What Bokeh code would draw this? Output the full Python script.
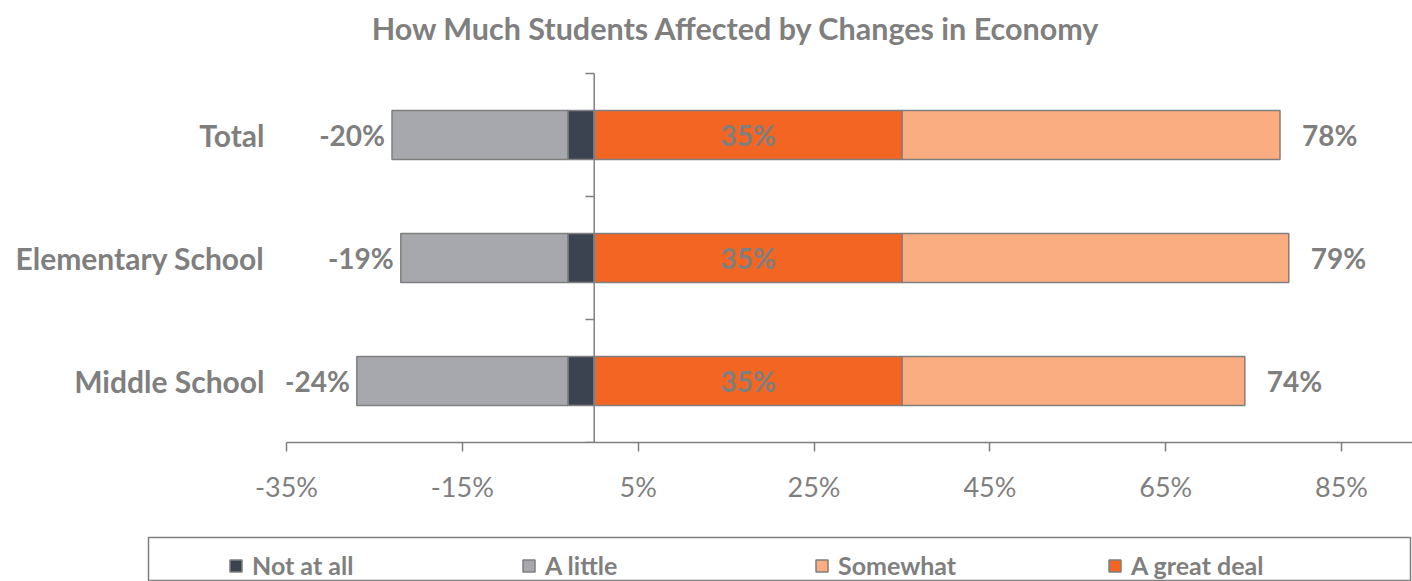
from bokeh.plotting import figure
from bokeh.layouts import column
from bokeh.models import (Range1d, FixedTicker, PrintfTickFormatter, ColumnDataSource,
                          LabelSet, Label, Legend, LegendItem)
from bokeh.core.properties import value
from bokeh.embed import file_html
from bokeh.resources import INLINE

# ---- data ----
categories = ["Total", "Elementary School", "Middle School"]
series_names = ["Not at all", "A little", "Somewhat", "A great deal"]
not_at_all = [3, 3, 3]
a_little = [20, 19, 24]
great_deal = [35, 35, 35]
somewhat = [43, 44, 39]
x_ticks = [-35, -15, 5, 25, 45, 65, 85]
title_text = "How Much Students Affected by Changes in Economy"

# ---- styles ----
C_DARK = "#3C4350"
C_GRAY = "#A6A8AD"
C_LIGHT = "#F9AD81"
C_ORANGE = "#F26522"
C_EDGE = "#7F7F7F"
C_TEXT = "#7F7F7F"
FONT = "Lato"

n = len(categories)
ypos = [n - i - 0.5 for i in range(n)]

left_na = [-v for v in not_at_all]
left_al = [-(a + b) for a, b in zip(not_at_all, a_little)]
right_gd = list(great_deal)
right_sw = [a + b for a, b in zip(great_deal, somewhat)]

src = ColumnDataSource(dict(
    y=ypos, cat=categories,
    na_l=left_na, al_l=left_al, gd_r=right_gd, sw_r=right_sw,
    neg_lbl=[f"-{v}%" for v in a_little],
    pos_lbl=[f"{v}%" for v in right_sw],
    mid_lbl=[f"{v}%" for v in great_deal],
    mid_x=[v / 2 for v in great_deal],
    zero=[0] * n,
))

# series: (name, left column, right column, colour)
series = [(series_names[0], "na_l", "zero", C_DARK),
          (series_names[1], "al_l", "na_l", C_GRAY),
          (series_names[2], "gd_r", "sw_r", C_LIGHT),
          (series_names[3], "zero", "gd_r", C_ORANGE)]

px_per_pct = 8.789
px_per_row = 123.0
top_pad = 73 / px_per_row          # room above the bars for the title
p = figure(width=1412, height=530, output_backend="svg", toolbar_location=None,
           x_range=Range1d(-35, (1412 - 594) / px_per_pct),
           y_range=Range1d(0, n + top_pad),
           min_border_left=286, min_border_right=0, min_border_top=0, min_border_bottom=88,
           outline_line_color=None)
p.frame_align = False
p.grid.visible = False

bh = 0.4
for name, l, r, col in series:
    p.hbar(y="y", left=l, right=r, height=bh, source=src, fill_color=col,
           line_color=C_EDGE, line_width=1.5)

# x axis
xa = p.xaxis[0]
xa.ticker = FixedTicker(ticks=x_ticks, minor_ticks=[])
xa.formatter = PrintfTickFormatter(format="%d%%")
xa.axis_line_color = C_EDGE
xa.axis_line_width = 1.5
xa.major_tick_line_color = C_EDGE
xa.major_tick_line_width = 1.5
xa.major_tick_in = 0
xa.major_tick_out = 9
xa.minor_tick_line_color = None
xa.major_label_text_font = FONT
xa.major_label_text_font_size = "27px"
xa.major_label_text_color = C_TEXT
xa.major_label_standoff = 18

# y axis (category labels only)
ya = p.yaxis[0]
ya.ticker = FixedTicker(ticks=ypos, minor_ticks=[])
ya.major_label_overrides = {y: c for y, c in zip(ypos, categories)}
ya.axis_line_color = None
ya.major_tick_line_color = None
ya.minor_tick_line_color = None
ya.major_label_text_font = FONT
ya.major_label_text_font_style = "bold"
ya.major_label_text_font_size = "30px"
ya.major_label_text_color = C_TEXT
ya.major_label_standoff = 16

# zero line with boundary ticks
p.segment(x0=[0], x1=[0], y0=[0], y1=[n], line_color=C_EDGE, line_width=1.5)
p.segment(x0=[-1.0] * (n + 1), x1=[0] * (n + 1), y0=list(range(n + 1)), y1=list(range(n + 1)),
          line_color=C_EDGE, line_width=1.5)

# value labels
lbl_kw = dict(text_font=value(FONT), text_font_style="bold", text_font_size="28px",
              text_color=C_TEXT, text_baseline="middle")
p.add_layout(LabelSet(x="al_l", y="y", text="neg_lbl", source=src, text_align="right",
                      x_offset=-7, **lbl_kw))
p.add_layout(LabelSet(x="sw_r", y="y", text="pos_lbl", source=src, text_align="left",
                      x_offset=22, **lbl_kw))
p.add_layout(LabelSet(x="mid_x", y="y", text="mid_lbl", source=src, text_align="center",
                      **lbl_kw))

# title
p.add_layout(Label(x=(736 - 594) / px_per_pct, y=n + (73 - 27) / px_per_row, text=title_text,
                   text_align="center", text_baseline="middle", text_font=FONT,
                   text_font_style="bold", text_font_size="30.5px", text_color=C_TEXT))

# ---- legend panel (its frame outline is the legend box) ----
pl = figure(width=1412, height=51, output_backend="svg", toolbar_location=None,
            x_range=p.x_range, y_range=p.y_range,
            x_axis_location=None, y_axis_location=None,
            min_border_left=148, min_border_right=2, min_border_top=7, min_border_bottom=0,
            outline_line_color=C_EDGE, outline_line_width=1.5)
pl.frame_align = False
pl.grid.visible = False
items = []
for name, l, r, col in series:
    rr = pl.hbar(y="y", left=l, right=r, height=bh, source=src, fill_color=col,
                 line_color=C_EDGE, line_width=1.5, visible=False)
    items.append(LegendItem(label=name, renderers=[rr]))
legend = Legend(items=items, orientation="horizontal", location=(80, 1),
                glyph_width=15, glyph_height=15, label_standoff=9, label_width=250,
                spacing=19, padding=0, margin=0, border_line_color=None,
                background_fill_alpha=0, label_text_font=FONT, label_text_font_style="bold",
                label_text_font_size="25px", label_text_color=C_TEXT, label_height=24)
pl.add_layout(legend, "center")

layout = column(p, pl, spacing=0)
open("out.html", "w").write(file_html(layout, INLINE))
